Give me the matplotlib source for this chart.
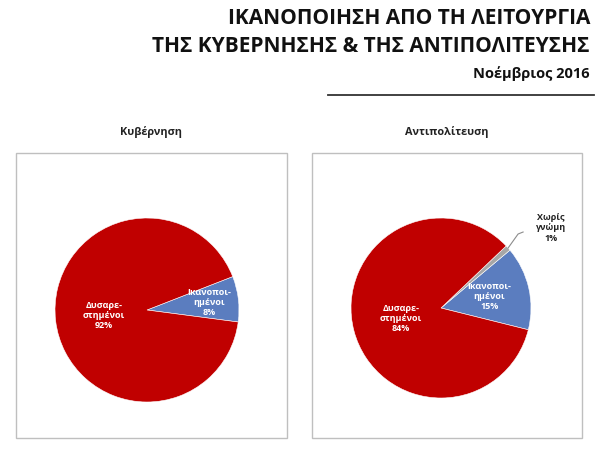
import matplotlib.pyplot as plt
from matplotlib.patches import Rectangle
import numpy as np

plt.rcParams['font.family'] = ['Open Sans', 'DejaVu Sans']

# data
title_lines = ['ΙΚΑΝΟΠΟΙΗΣΗ ΑΠΟ ΤΗ ΛΕΙΤΟΥΡΓΙΑ',
               'ΤΗΣ ΚΥΒΕΡΝΗΣΗΣ & ΤΗΣ ΑΝΤΙΠΟΛΙΤΕΥΣΗΣ']
subtitle = 'Νοέμβριος 2016'

gov_title = 'Κυβέρνηση'
gov_labels = ['Ικανοποι-\nημένοι', 'Δυσαρε-\nστημένοι']
gov_values = [8, 92]

opp_title = 'Αντιπολίτευση'
opp_labels = ['Ικανοποι-\nημένοι', 'Χωρίς\nγνώμη', 'Δυσαρε-\nστημένοι']
opp_values = [15, 1, 84]

red = '#C00000'
blue = '#5B7DBF'
grey = '#A6A6A6'

W, H = 600, 449
fig = plt.figure(figsize=(6, 4.49), dpi=100)
ax = fig.add_axes([0, 0, 1, 1])


def py(y):
    # pixel row (from top) to data y
    return H - y


# header
ax.text(590, py(19), title_lines[0], ha='right', va='center',
        fontsize=15, fontweight='bold', color='#111111')
ax.text(590, py(46), title_lines[1], ha='right', va='center',
        fontsize=15, fontweight='bold', color='#111111')
ax.text(590, py(74), subtitle, ha='right', va='center',
        fontsize=10.5, fontweight='bold', color='#111111')
ax.plot([328, 594], [py(95), py(95)], color='#333333', lw=1.3)

# panel boxes
for x0, x1 in [(16, 287), (312, 582)]:
    ax.add_patch(Rectangle((x0, py(438)), x1 - x0, 438 - 153,
                           fill=False, edgecolor='#BFBFBF', lw=1))

ax.text(151, py(132), gov_title, ha='center', va='center',
        fontsize=7.8, fontweight='bold', color='#222222')
ax.text(447, py(132), opp_title, ha='center', va='center',
        fontsize=7.8, fontweight='bold', color='#222222')


def draw_pie(cx, cy, r, values, labels, colors, start, dists):
    wedges, _ = ax.pie(values, colors=colors, startangle=start,
                       center=(cx, py(cy)), radius=r, frame=True,
                       wedgeprops=dict(edgecolor='white', linewidth=0.4))
    for w, lab, v, d in zip(wedges, labels, values, dists):
        if d is None:
            continue
        mid = np.deg2rad((w.theta1 + w.theta2) / 2)
        ax.text(cx + d * r * np.cos(mid), py(cy) + d * r * np.sin(mid),
                f'{lab}\n{v}%', ha='center', va='center', color='white',
                fontsize=6.5, fontweight='bold', linespacing=1.15)
    return wedges


draw_pie(147, 310, 92, gov_values, gov_labels, [blue, red], -7.5,
         [0.68, 0.47])
ow = draw_pie(441, 308, 90, opp_values, opp_labels, [blue, grey, red],
              -14, [0.55, None, 0.46])

# callout for the tiny slice
w = ow[1]
mid = np.deg2rad((w.theta1 + w.theta2) / 2)
ex, ey = 441 + 90 * np.cos(mid), py(308) + 90 * np.sin(mid)
ax.plot([ex, ex + 10, ex + 15], [ey, ey + 14, ey + 16],
        color='#8C8C8C', lw=0.8)
ax.text(551, py(228), f'{opp_labels[1]}\n{opp_values[1]}%',
        ha='center', va='center', fontsize=6.5, fontweight='bold',
        color='#222222', linespacing=1.15)

ax.set_xlim(0, W)
ax.set_ylim(0, H)
ax.set_aspect('equal')
ax.axis('off')

fig.savefig('out.png', dpi=100, facecolor='white')
